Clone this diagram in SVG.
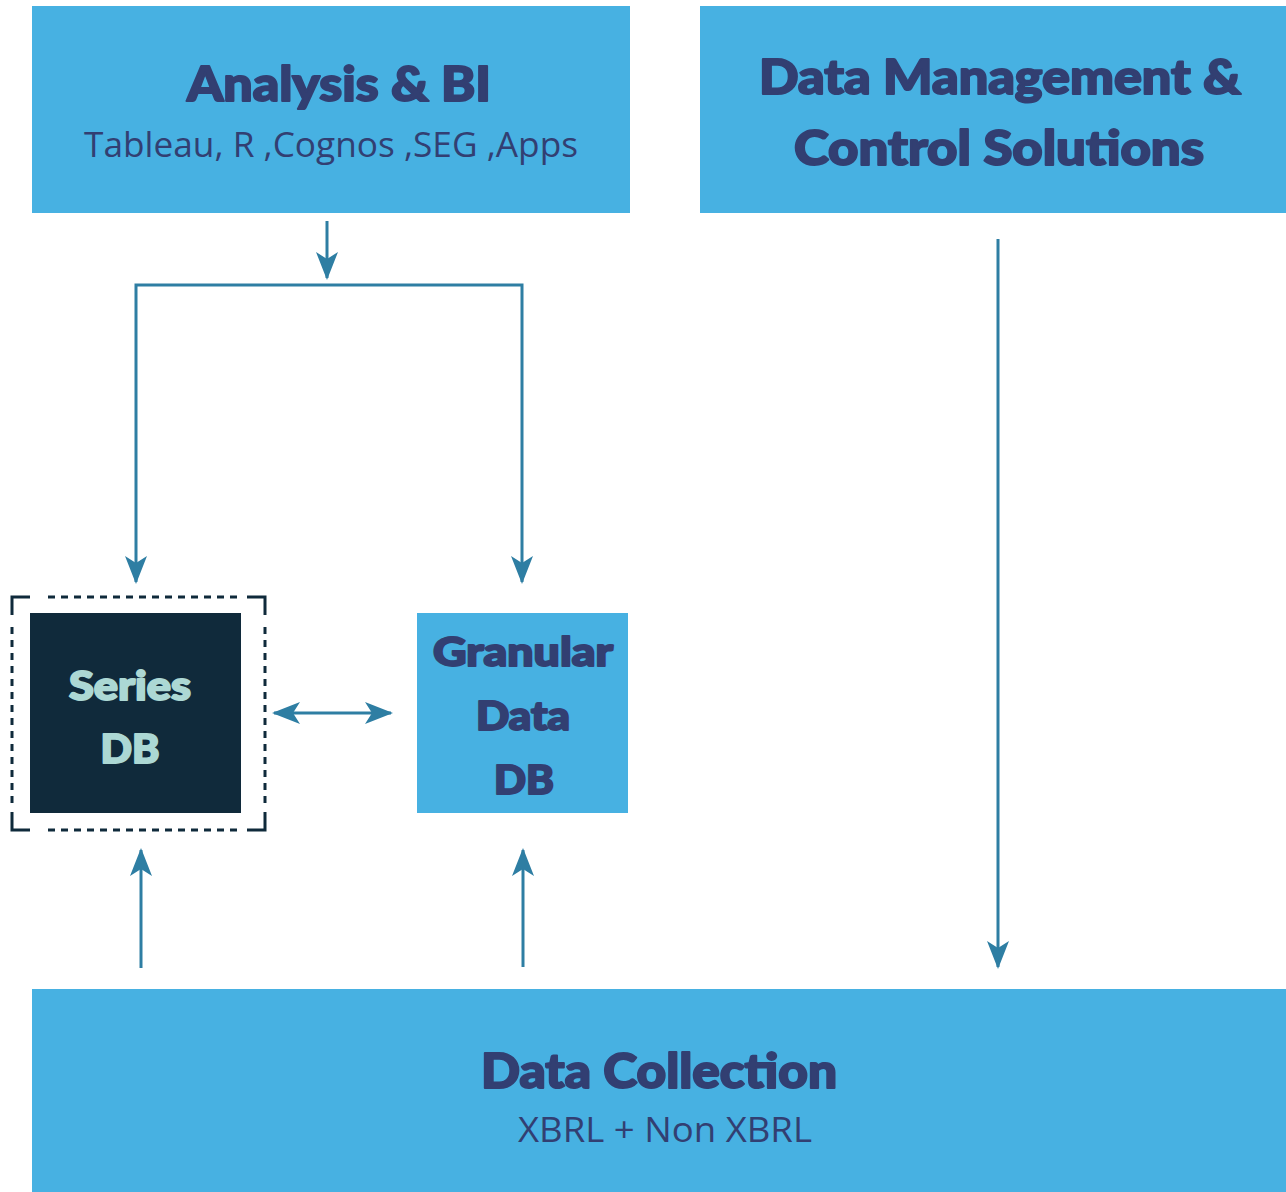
<svg xmlns="http://www.w3.org/2000/svg" width="1286" height="1192" viewBox="0 0 1286 1192">
<style>
.box{fill:#47b1e2}
.h{font-family:Lato,"Liberation Sans",sans-serif;font-weight:900;fill:#323f72;stroke:#323f72;stroke-width:2;stroke-linejoin:round;text-anchor:middle}
.l{fill:#acd8d4;stroke:#acd8d4}
.s{font-family:"Open Sans","Noto Sans",sans-serif;fill:#323f72;text-anchor:middle}
.c{stroke:#2e7ea3;stroke-width:3;fill:none}
.d{stroke:#0f2a3b;stroke-width:3;fill:none}
</style>
<defs>
<marker id="ah" viewBox="0 0 28 24" refX="26" refY="12" markerWidth="28" markerHeight="24" markerUnits="userSpaceOnUse" orient="auto-start-reverse">
<path d="M0,1 L28,12 L0,23 L7,12 Z" fill="#2e7ea3"/>
</marker>
</defs>
<rect width="1286" height="1192" fill="#fff"/>
<g id="analysis">
<rect class="box" x="32" y="6" width="598" height="207"/>
<text class="h" x="339" y="101" font-size="48" textLength="304" lengthAdjust="spacingAndGlyphs">Analysis &amp; BI</text>
<text class="s" x="331" y="157" font-size="34" textLength="494" lengthAdjust="spacingAndGlyphs">Tableau, R ,Cognos ,SEG ,Apps</text>
</g>
<g id="datamgmt">
<rect class="box" x="700" y="6" width="586" height="207"/>
<text class="h" x="1000" y="94" font-size="48" textLength="482" lengthAdjust="spacingAndGlyphs">Data Management &amp;</text>
<text class="h" x="999" y="165" font-size="48" textLength="410" lengthAdjust="spacingAndGlyphs">Control Solutions</text>
</g>
<g id="series">
<path class="d" d="M12,615 V597 H30 M247,597 H265 V615 M12,812 V830 H30 M247,830 H265 V812"/>
<path class="d" stroke-dasharray="7,6" d="M48,597 H242 M48,830 H242 M12,627 V808 M265,627 V808"/>
<rect x="30" y="613" width="211" height="200" fill="#102a3b"/>
<text class="h l" x="130" y="700" font-size="40" textLength="122" lengthAdjust="spacingAndGlyphs">Series</text>
<text class="h l" x="130" y="763" font-size="40" textLength="59" lengthAdjust="spacingAndGlyphs">DB</text>
</g>
<g id="granular">
<rect class="box" x="417" y="613" width="211" height="200"/>
<text class="h" x="523" y="666" font-size="40" textLength="180" lengthAdjust="spacingAndGlyphs">Granular</text>
<text class="h" x="523" y="730" font-size="40" textLength="94" lengthAdjust="spacingAndGlyphs">Data</text>
<text class="h" x="524" y="794" font-size="40" textLength="60" lengthAdjust="spacingAndGlyphs">DB</text>
</g>
<g id="collection">
<rect class="box" x="32" y="989" width="1254" height="203"/>
<text class="h" x="659" y="1088" font-size="48" textLength="356" lengthAdjust="spacingAndGlyphs">Data Collection</text>
<text class="s" x="665" y="1142" font-size="34" textLength="294" lengthAdjust="spacingAndGlyphs">XBRL + Non XBRL</text>
</g>
<g id="connectors">
<line class="c" x1="327" y1="221" x2="327" y2="278" marker-end="url(#ah)"/>
<path class="c" d="M136,582 V285 H522 V582" marker-start="url(#ah)" marker-end="url(#ah)"/>
<line class="c" x1="998" y1="239" x2="998" y2="967" marker-end="url(#ah)"/>
<line class="c" x1="141" y1="968" x2="141" y2="850" marker-end="url(#ah)"/>
<line class="c" x1="523" y1="967" x2="523" y2="850" marker-end="url(#ah)"/>
<line class="c" x1="274" y1="713" x2="391" y2="713" marker-start="url(#ah)" marker-end="url(#ah)"/>
</g>
</svg>
